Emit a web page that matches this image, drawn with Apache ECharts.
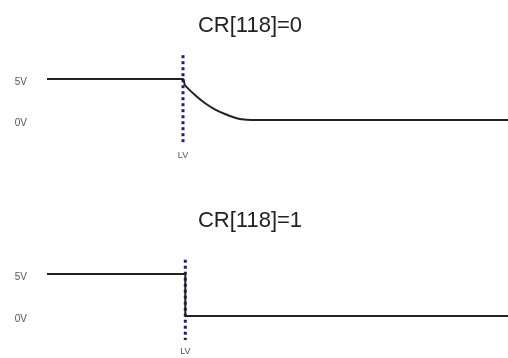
<!DOCTYPE html>
<html>
<head>
<meta charset="utf-8">
<script src="https://cdn.jsdelivr.net/npm/echarts@6/dist/echarts.min.js"></script>
<style>
  html, body { margin: 0; padding: 0; background: #fff; }
  #main { width: 508px; height: 358px; }
</style>
</head>
<body>
<div id="main"></div>
<script>
// waveform data (x = time units, y = volts)
var titles = ['CR[118]=0', 'CR[118]=1'];
var levelTicks = [0, 5];
var lvTime = [2.95, 3.0];
// CR[118]=0 : slow discharge after LV
var waveSlow = [[0, 5], [2.95, 5], [2.99, 4.27], [3.21, 3.05], [3.43, 2.04], [3.64, 1.30],
                [3.86, 0.73], [4.08, 0.28], [4.22, 0.09], [4.44, 0], [10, 0]];
// CR[118]=1 : immediate drop at LV
var waveFast = [[0, 5], [3.0, 5], [3.0, 0], [10, 0]];
// dotted LV marker spans
var lvSlow = [[2.95, 7.9], [2.95, -2.7]];
var lvFast = [[3.0, 6.7], [3.0, -2.85]];

var myChart = echarts.init(document.getElementById('main'));

function xAx(idx, lv) {
    return {
        gridIndex: idx, type: 'value', min: 0, max: 10,
        axisLine: {show: false}, axisTick: {show: false}, splitLine: {show: false},
        axisLabel: {
            customValues: [lv], margin: 6,
            formatter: function(){ return 'LV'; },
            fontSize: 9, color: '#555', fontFamily: 'Liberation Sans'
        }
    };
}
function yAx(idx, min, max) {
    return {
        gridIndex: idx, type: 'value', min: min, max: max,
        axisLine: {show: false}, axisTick: {show: false}, splitLine: {show: false},
        axisLabel: {
            customValues: levelTicks, margin: 20,
            verticalAlign: 'top', lineHeight: 7,
            formatter: '{value}V',
            fontSize: 10, color: '#555', fontFamily: 'Liberation Sans'
        }
    };
}

var option = {
    backgroundColor: '#fff',
    animation: false,
    title: [
        {text: titles[0], left: 245, top: 10, textAlign: 'center',
         textStyle: {fontSize: 22, fontWeight: 'normal', color: '#222', fontFamily: 'Liberation Sans'}},
        {text: titles[1], left: 245, top: 205, textAlign: 'center',
         textStyle: {fontSize: 22, fontWeight: 'normal', color: '#222', fontFamily: 'Liberation Sans'}}
    ],
    grid: [
        {left: 47, right: 0, top: 54.4, height: 90.2},
        {left: 47, right: 0, top: 257.2, height: 84}
    ],
    xAxis: [xAx(0, lvTime[0]), xAx(1, lvTime[1])],
    yAxis: [yAx(0, -3, 8), yAx(1, -3, 7)],
    series: [
        {
            type: 'line', xAxisIndex: 0, yAxisIndex: 0, data: lvSlow,
            symbol: 'none', z: 2,
            lineStyle: {color: '#1c1c80', width: 3, type: [3, 3]}
        },
        {
            type: 'line', xAxisIndex: 0, yAxisIndex: 0, data: waveSlow,
            symbol: 'none', z: 3, smooth: 0.2,
            lineStyle: {color: '#222', width: 2}
        },
        {
            type: 'line', xAxisIndex: 1, yAxisIndex: 1, data: lvFast,
            symbol: 'none', z: 2,
            lineStyle: {color: '#1c1c80', width: 3, type: [3, 3]}
        },
        {
            type: 'line', xAxisIndex: 1, yAxisIndex: 1, data: waveFast,
            symbol: 'none', z: 3,
            lineStyle: {color: '#222', width: 2}
        }
    ]
};
myChart.setOption(option);
</script>
</body>
</html>
